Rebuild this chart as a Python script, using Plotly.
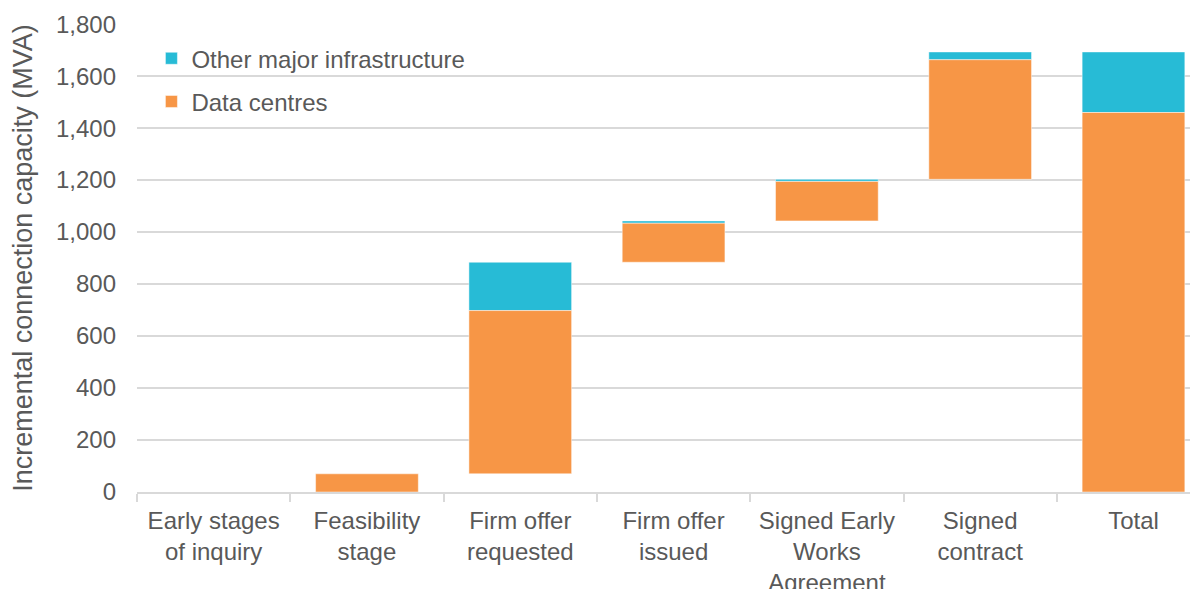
import numpy as np
import plotly.graph_objects as go

categories = ["Early stages<br>of inquiry", "Feasibility<br>stage", "Firm offer<br>requested",
              "Firm offer<br>issued", "Signed Early<br>Works<br>Agreement", "Signed<br>contract", "Total"]
data_centres = [0, 70, 628, 150, 152, 460]
other_infra = [0, 0, 186, 9, 8, 30]

y_ticks = [0, 200, 400, 600, 800, 1000, 1200, 1400, 1600, 1800]

dc = np.array(data_centres, dtype=float)
ot = np.array(other_infra, dtype=float)
step_totals = dc + ot
starts = np.concatenate([[0], np.cumsum(step_totals)[:-1]])

dc_vals = list(dc) + [dc.sum()]
dc_base = list(starts) + [0]
ot_vals = list(ot) + [ot.sum()]
ot_base = list(starts + dc) + [dc.sum()]

ORANGE = "#F79646"
BLUE = "#27BBD6"
TXT = "#595959"
GRID = "#D9D9D9"
FONT = "Liberation Sans, Arial, sans-serif"

fig = go.Figure()
fig.add_trace(go.Bar(x=categories, y=ot_vals, base=ot_base, name="Other major infrastructure",
                     marker=dict(color=BLUE, line=dict(width=0.8, color="rgba(255,255,255,0.6)")),
                     width=0.67, legendgroup="ot"))
fig.add_trace(go.Bar(x=categories, y=dc_vals, base=dc_base, name="Data centres",
                     marker=dict(color=ORANGE, line=dict(width=0.8, color="rgba(255,255,255,0.6)")),
                     width=0.67, legendgroup="dc"))

fig.update_layout(
    width=1198, height=589,
    barmode="overlay",
    plot_bgcolor="white", paper_bgcolor="white",
    margin=dict(l=129, r=0, t=16, b=105),
    font=dict(family=FONT, size=24, color=TXT),
    showlegend=True,
    legend=dict(x=0.0135, y=0.974, xanchor="left", yanchor="top",
                traceorder="grouped", tracegroupgap=9,
                bgcolor="rgba(0,0,0,0)", font=dict(size=24, color=TXT),
                itemwidth=30),
    xaxis=dict(
        type="category", range=[-0.5, 6.473], automargin=False,
        showline=True, linecolor=GRID, linewidth=1.5,
        ticks="outside", tickson="boundaries", ticklen=8, tickcolor=GRID, tickwidth=1.5,
        showgrid=False, tickfont=dict(size=24, color=TXT),
        ticklabelstandoff=6,
    ),
    yaxis=dict(
        range=[0, 1800.5], tickvals=y_ticks, tickformat=",", automargin=False,
        showgrid=True, gridcolor=GRID, gridwidth=1.5,
        zeroline=False, showline=False, ticks="",
        ticklabelstandoff=20,
        tickfont=dict(size=24, color=TXT),
        title=dict(text="Incremental connection capacity (MVA)", font=dict(size=27, color=TXT), standoff=18),
    ),
)

fig.write_html("out.html")
